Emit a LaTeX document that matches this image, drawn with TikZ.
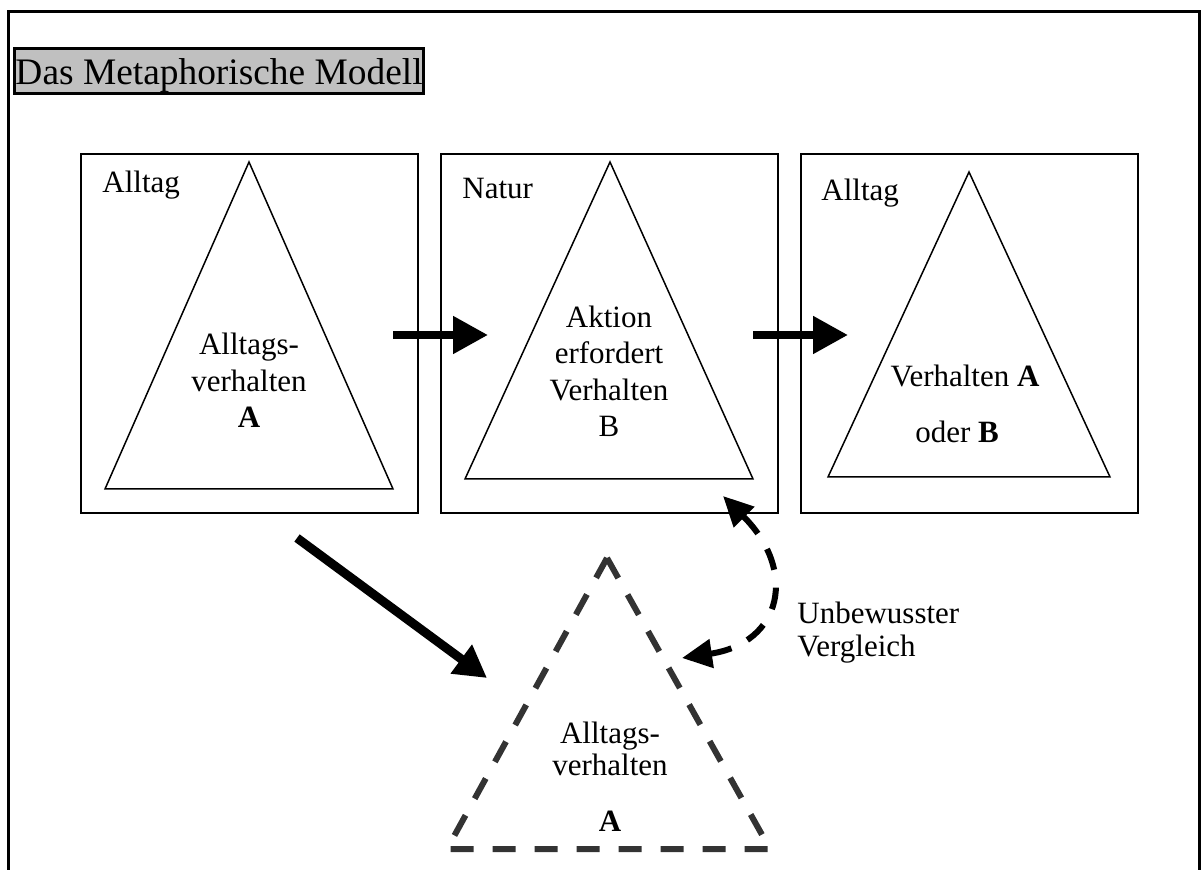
\documentclass[tikz,border=0pt]{standalone}
\usepackage{fontspec}
\setmainfont{Liberation Serif}
\usepackage{tikz}
\usetikzlibrary{arrows.meta}
\definecolor{titlegray}{HTML}{C0C0C0}
\definecolor{dashgray}{HTML}{333333}

\begin{document}
\begin{tikzpicture}[x=0.5pt,y=-0.5pt]
    \tikzstyle{box} = [draw, line width=1pt, minimum width=168.5pt, minimum height=179.5pt, inner sep=0pt]
    \tikzstyle{tri} = [line width=0.75pt, line join=miter]
    \tikzstyle{txt} = [font=\fontsize{15.5}{18.25}\selectfont, inner sep=0pt]
    \tikzstyle{arrow} = [line width=4pt, -{Triangle[length=17.5pt,width=18pt]}]
    \tikzstyle{dasharrow} = [line width=3pt, dash pattern=on 11pt off 9pt, {Triangle[length=15pt,width=14pt]}-{Triangle[length=15pt,width=14pt]}]
    \useasboundingbox (0,0) rectangle (1203,870);

    % Outer frame, open at the bottom
    \draw [line width=1.5pt] (8,870) -- (8,12) -- (1199,12) -- (1199,870);

    % Title
    \node [draw, fill=titlegray, line width=1.5pt, anchor=north west, inner xsep=0.5pt, inner ysep=0pt, text height=18pt, text depth=4.5pt, font=\fontsize{18.7}{22}\selectfont] (Title) at (13,47) {Das Metaphorische Modell};

    % Left box
    \node [box] (Left) at (249.5,333.5) {};
    \node [txt, anchor=base west] (LeftLabel) at (102,193) {Alltag};
    \draw [tri] (249,162) -- (393,489) -- (105,489) -- cycle;
    \node [txt, align=center, anchor=base] (LeftText) at (249,428) {Alltags-\\verhalten\\\textbf{A}};

    % Middle box
    \node [box] (Mid) at (609.5,333.5) {};
    \node [txt, anchor=base west] (MidLabel) at (462,199) {Natur};
    \draw [tri] (610,162) -- (753,479) -- (465,479) -- cycle;
    \node [txt, align=center, anchor=base] (MidText) at (609,437) {Aktion\\erfordert\\Verhalten\\B};

    % Right box
    \node [box] (Right) at (969.5,333.5) {};
    \node [txt, anchor=base west] (RightLabel) at (821,201) {Alltag};
    \draw [tri] (969,172) -- (1110,477) -- (828,477) -- cycle;
    \node [txt, anchor=base] (RightTextA) at (965,387) {Verhalten \textbf{A}};
    \node [txt, anchor=base] (RightTextB) at (957,443) {oder \textbf{B}};

    % Dashed triangle below
    \draw [dashgray, line width=3pt, dash pattern=on 11.5pt off 9.5pt] (607,558) -- (770,849) -- (447,849) -- cycle;
    \node [txt, align=center, anchor=base] (LowText) at (610,831) {Alltags-\\[-2.25pt]verhalten\\[9.75pt]\textbf{A}};

    % Thick arrows
    \coordinate (LeftOut) at (393,335);
    \coordinate (MidIn) at (488,335);
    \draw [arrow] (LeftOut) -- (MidIn);
    \coordinate (MidOut) at (753,335);
    \coordinate (RightIn) at (848,335);
    \draw [arrow] (MidOut) -- (RightIn);
    \coordinate (LeftDown) at (297,538);
    \coordinate (LowIn) at (487,678);
    \draw [arrow, line width=4.5pt, -{Triangle[length=16pt,width=17pt]}] (LeftDown) -- (LowIn);

    % Curved dashed arrow, both ends
    \coordinate (LowSide) at (682,658);
    \coordinate (MidBottom) at (723,496);
    \draw [dasharrow] (LowSide) .. controls (782,643) and (798,571) .. (MidBottom);
    \node [txt, align=left, anchor=base west] (Compare) at (797,656) {Unbewusster\\[-1.75pt]Vergleich};
\end{tikzpicture}
\end{document}
